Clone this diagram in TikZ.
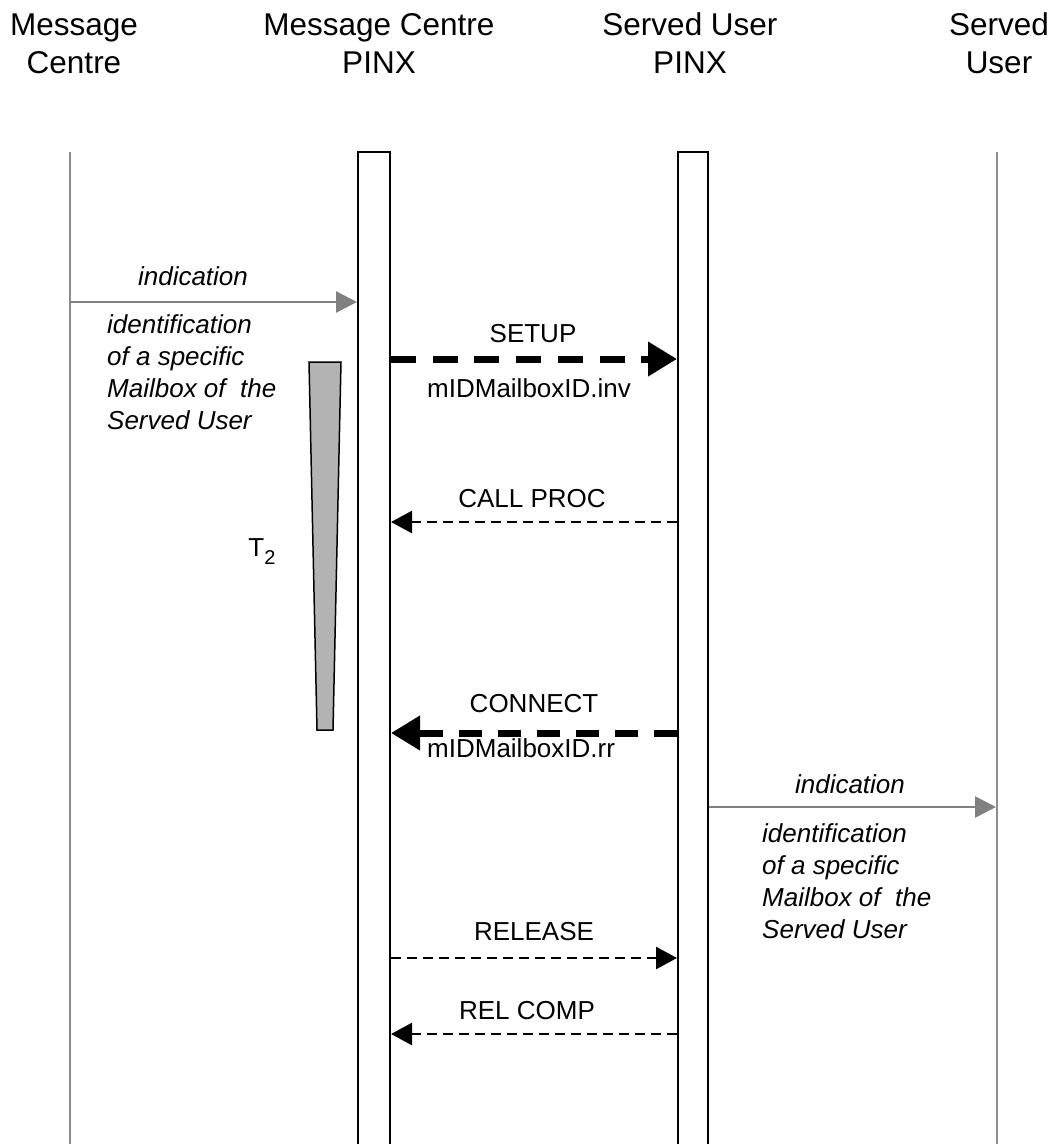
\documentclass[tikz,border=0pt]{standalone}
\usepackage{fontspec}
\setmainfont{Liberation Sans}
\usetikzlibrary{arrows.meta}
\definecolor{lifegray}{RGB}{140,140,140}
\definecolor{indgray}{RGB}{128,128,128}
\definecolor{timerfill}{RGB}{179,179,179}
\begin{document}
\begin{tikzpicture}[x=1pt,y=-1pt,
  hdr/.style={align=center,font=\fontsize{31.5}{38}\selectfont,inner sep=0pt,anchor=base},
  lbl/.style={font=\fontsize{26}{32}\selectfont,inner sep=0pt,anchor=base},
  lblw/.style={font=\fontsize{26}{32}\selectfont,inner sep=0pt,anchor=base west},
  note/.style={font=\fontsize{26}{32}\selectfont\itshape,inner sep=0pt,align=left,anchor=base west},
  life/.style={draw=lifegray,line width=2pt},
  pinx/.style={draw=black,line width=2pt},
  ind/.style={draw=indgray,line width=2.5pt,-{Triangle[length=21pt,width=21pt]}},
  bigmsg/.style={draw=black,line width=7pt,dash pattern=on 25pt off 16.7pt,-{Triangle[length=29pt,width=33pt]}},
  smallmsg/.style={draw=black,line width=2.7pt,dash pattern=on 10pt off 6pt,-{Triangle[length=21pt,width=22pt]}},
  timer/.style={draw=black,line width=1.5pt,fill=timerfill}
]
\useasboundingbox (0,0) rectangle (1055,1144);

% headers (base anchor = baseline of the last line)
\node[hdr] (h1) at (74,73) {Message\\Centre};
\node[hdr] (h2) at (379,73) {Message Centre\\PINX};
\node[hdr] (h3) at (690,73) {Served User\\PINX};
\node[hdr] (h4) at (999,73) {Served\\User};

% lifelines
\draw[life] (70,152) -- (70,1144);
\draw[life] (997,152) -- (997,1144);
\draw[pinx] (358,1145) -- (358,152) -- (390,152) -- (390,1145);
\draw[pinx] (678,1145) -- (678,152) -- (708,152) -- (708,1145);

% connector end points
\coordinate (mcL) at (70,302);
\coordinate (aL) at (357,302);
\coordinate (a1) at (391,359);
\coordinate (b1) at (677,359);
\coordinate (b2) at (677,522);
\coordinate (a2) at (391,522);
\coordinate (b3) at (677,733);
\coordinate (a3) at (391,733);
\coordinate (bR) at (709,807);
\coordinate (suR) at (996,807);
\coordinate (a4) at (391,958);
\coordinate (b4) at (677,958);
\coordinate (b5) at (677,1034);
\coordinate (a5) at (391,1034);

% timer
\draw[timer] (309,362) -- (341,362) -- (333,730) -- (317,730) -- cycle;
\node[lbl] (t2) at (262,556) {T\raisebox{-8pt}{\fontsize{20}{20}\selectfont 2}};

% messages
\draw[ind] (mcL) -- (aL);
\node[lbl,font=\fontsize{26}{32}\selectfont\itshape] (ind1) at (193,285) {indication};
\node[note] (id1) at (107,429) {identification\\of a specific\\Mailbox of\ \ the\\Served User};

\draw[bigmsg] (a1) -- (b1);
\node[lbl] (setup) at (533,342) {SETUP};
\node[lblw] (inv) at (427,397) {mIDMailboxID.inv};

\draw[smallmsg] (b2) -- (a2);
\node[lbl] (callproc) at (532,507) {CALL PROC};

\draw[bigmsg,dash pattern=on 23pt off 16pt] (b3) -- (a3);
\node[lbl] (connect) at (534,712) {CONNECT};
\node[lblw] (rr) at (427,757) {mIDMailboxID.rr};

\draw[ind] (bR) -- (suR);
\node[lbl,font=\fontsize{26}{32}\selectfont\itshape] (ind2) at (850,793) {indication};
\node[note] (id2) at (762,938) {identification\\of a specific\\Mailbox of\ \ the\\Served User};

\draw[smallmsg] (a4) -- (b4);
\node[lbl] (release) at (534,940) {RELEASE};

\draw[smallmsg] (b5) -- (a5);
\node[lbl] (relcomp) at (527,1019) {REL COMP};
\end{tikzpicture}
\end{document}
